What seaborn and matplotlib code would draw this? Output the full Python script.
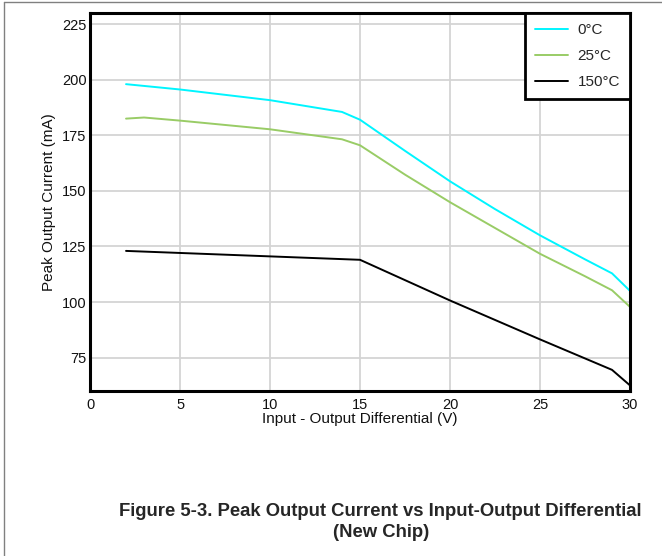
import numpy as np
import pandas as pd
import matplotlib.pyplot as plt
import seaborn as sns
from matplotlib.lines import Line2D

x_0c = [2, 5, 10, 14, 15, 17.5, 20, 22.5, 25, 27.5, 29, 30]
y_0c = [198, 195.6, 190.8, 185.5, 182, 168, 154.3, 141.8, 130, 119.2, 112.9, 105]

x_25c = [2, 3, 5, 10, 14, 15, 17.5, 20, 22.5, 25, 27.5, 29, 30]
y_25c = [182.5, 183, 181.6, 177.7, 173.2, 170.5, 157.3, 144.9, 133.3, 121.7, 111.6, 105.3, 97.8]

x_150c = [2, 15, 20, 25, 29, 30]
y_150c = [123, 119, 100.7, 83.2, 69.5, 62.5]

labels = ['0°C', '25°C', '150°C']
colors = ['#00f5ff', '#99cc66', '#000000']

df = pd.concat([
    pd.DataFrame({'V': x_0c, 'I': y_0c, 'Temp': labels[0]}),
    pd.DataFrame({'V': x_25c, 'I': y_25c, 'Temp': labels[1]}),
    pd.DataFrame({'V': x_150c, 'I': y_150c, 'Temp': labels[2]}),
])

sns.set_theme(style="white")
plt.rcParams['font.family'] = ['Liberation Sans', 'DejaVu Sans']

fig = plt.figure(figsize=(6.62, 5.56), dpi=100)
ax = fig.add_axes([0.136, 0.2968, 0.8157, 0.6798])

sns.lineplot(data=df, x='V', y='I', hue='Temp', palette=dict(zip(labels, colors)),
             sort=False, estimator=None, linewidth=1.4, ax=ax)

ax.set_xlim(0, 30)
ax.set_ylim(60, 230)
ax.set_xticks(range(0, 31, 5))
ax.set_yticks(range(75, 226, 25))
ax.grid(True, color='#d4d4d4', linewidth=1.3)
ax.set_axisbelow(True)
ax.tick_params(length=0, labelsize=10.5, colors='#111111')
ax.tick_params(axis='x', pad=5)
ax.tick_params(axis='y', pad=2.5)
for s in ax.spines.values():
    s.set_color('black')
    s.set_linewidth(2.2)

ax.set_xlabel('Input - Output Differential (V)', fontsize=11, labelpad=0, color='#111111')
ax.set_ylabel('Peak Output Current (mA)', fontsize=11, labelpad=4, color='#111111')

leg = ax.legend(loc='upper right', borderaxespad=0, fontsize=11, frameon=True,
                fancybox=False, handlelength=2.15, handletextpad=0.65,
                labelspacing=0.8, borderpad=0.65)
leg.set_title(None)
leg.get_frame().set_edgecolor('black')
leg.get_frame().set_linewidth(2)
leg.get_frame().set_alpha(1)

fig.text(0.575, 0.061, 'Figure 5-3. Peak Output Current vs Input-Output Differential\n(New Chip)',
         ha='center', va='center', fontsize=13.3, fontweight='bold', linespacing=1.3)

# thin outer frame of the figure panel
fig.add_artist(Line2D([3.5 / 662, 3.5 / 662], [0, 1 - 1.5 / 556], color='#808080', linewidth=1))
fig.add_artist(Line2D([3.5 / 662, 1], [1 - 1.5 / 556, 1 - 1.5 / 556], color='#808080', linewidth=1))

fig.savefig('out.png', dpi=100, facecolor='white')
